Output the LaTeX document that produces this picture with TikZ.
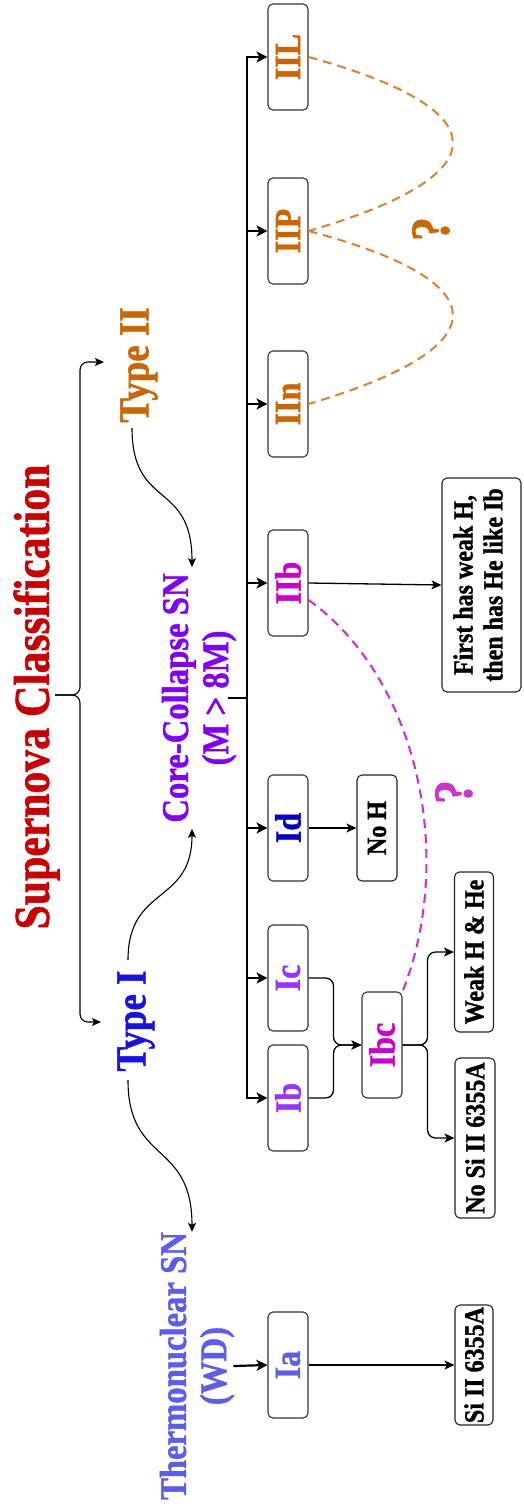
\documentclass[tikz,border=0pt]{standalone}
\usepackage{fontspec}
\setmainfont[BoldFeatures={FakeBold=1.2}]{Liberation Serif}
\usepackage{graphicx}
\usetikzlibrary{arrows.meta}
\definecolor{titlered}{RGB}{204,0,0}
\definecolor{typeIbl}{RGB}{20,20,230}
\definecolor{typeIIor}{RGB}{204,102,0}
\definecolor{ccviolet}{RGB}{127,0,255}
\definecolor{thblue}{RGB}{92,92,240}
\definecolor{ibpurple}{RGB}{153,51,255}
\definecolor{idblue}{RGB}{0,0,204}
\definecolor{ibcmag}{RGB}{204,0,204}
\definecolor{dashorange}{RGB}{218,134,50}
\definecolor{dashmagenta}{RGB}{204,51,204}
\newcommand\Rt[1]{\rotatebox{90}{\scalebox{1}[1.15]{#1}}}
\newcommand\fs[2]{\fontsize{#1}{#2}\selectfont}
\begin{document}
\begin{tikzpicture}[x=1pt,y=-1pt,
  lbl/.style={inner sep=0pt, font=\bfseries},
  box/.style={draw=black!80, line width=1.1pt, rounded corners=5pt, inner sep=0pt,
    minimum width=40pt, minimum height=106pt, font=\bfseries\fs{32}{38}},
  smallbox/.style={draw=black!85, line width=1.1pt, rounded corners=5pt, inner sep=0pt,
    font=\bfseries\fs{24}{26}},
  busline/.style={line width=2.2pt},
  busarrow/.style={line width=2.2pt, -{Stealth[length=11pt,width=11pt,inset=3pt]}},
  thinarrow/.style={line width=1.3pt, -{Stealth[length=10pt,width=9pt,inset=2.5pt]}},
  curvearrow/.style={line width=1.1pt, -{Stealth[length=9pt,width=8pt,inset=2pt]}},
  dashor/.style={dash pattern=on 9pt off 6pt, line width=2.1pt, draw=dashorange},
  dashmag/.style={dash pattern=on 9pt off 6pt, line width=2.1pt, draw=dashmagenta}
]
\fill[white] (0,0) rectangle (524,1506);
\useasboundingbox (0,0) rectangle (524,1506);

% text labels
\node[lbl, text=titlered, font=\bfseries\fs{43.7}{50}] (title) at (36.5,697) {\Rt{Supernova Classification}};
\node[lbl, text=typeIIor, font=\bfseries\fs{37}{42}] (t2) at (139,365) {\Rt{Type II}};
\node[lbl, text=typeIbl, font=\bfseries\fs{37}{42}] (t1) at (136,1021) {\Rt{Type I}};
\node[lbl, text=ccviolet, font=\bfseries\fs{32.7}{35}] (cc) at (200,698)
  {\Rt{\begin{tabular}{@{}c@{}}Core-Collapse SN\\(M > 8M)\end{tabular}}};
\node[lbl, text=thblue, font=\bfseries\fs{32.7}{35}] (th) at (198,1366)
  {\Rt{\begin{tabular}{@{}c@{}}Thermonuclear SN\\(WD)\end{tabular}}};

% type boxes
\node[box, text=typeIIor] (IIL) at (288,57) {\Rt{IIL}};
\node[box, text=typeIIor] (IIP) at (288,231) {\Rt{IIP}};
\node[box, text=typeIIor] (IIn) at (288,404) {\Rt{IIn}};
\node[box, text=ibcmag] (IIb) at (288,583) {\Rt{IIb}};
\node[box, text=idblue] (Id) at (288,828) {\Rt{Id}};
\node[box, text=ibpurple] (Ic) at (288,978) {\Rt{Ic}};
\node[box, text=ibpurple] (Ib) at (288,1098) {\Rt{Ib}};
\node[box, text=thblue] (Ia) at (288,1365) {\Rt{Ia}};
\node[box, text=ibcmag] (Ibc) at (382,1045) {\Rt{Ibc}};

% description boxes
\node[smallbox, minimum width=40pt, minimum height=106pt] (NoH) at (377,828) {\Rt{No H}};
\node[smallbox, minimum width=38pt, minimum height=120pt] (SiII) at (474,1365) {\Rt{Si II 6355A}};
\node[smallbox, minimum width=40pt, minimum height=160pt] (NoSi) at (475,1138) {\Rt{No Si II 6355A}};
\node[smallbox, minimum width=39pt, minimum height=160pt] (Weak) at (474,952) {\Rt{Weak H \& He}};
\node[smallbox, minimum width=79pt, minimum height=214pt] (First) at (481.5,585)
  {\Rt{\begin{tabular}{@{}c@{}}First has weak H,\\then has He like Ib\end{tabular}}};

% question marks
\node[lbl, text=dashmagenta, font=\bfseries\fs{48}{52}] (q1) at (454,792) {\Rt{?}};
\node[lbl, text=typeIIor, font=\bfseries\fs{48}{52}] (q2) at (431,229) {\Rt{?}};

% brace
\coordinate (bt) at (55,695);
\coordinate (t2in) at (104,362);
\coordinate (t1in) at (101,1022);
\draw[curvearrow, rounded corners=8pt] (bt) -- (80,695) -- (80,362) -- (t2in);
\draw[curvearrow, rounded corners=8pt] (bt) -- (80,695) -- (80,1022) -- (t1in);

% type curves
\coordinate (t1a) at (128,960);
\coordinate (t1b) at (128,1080);
\coordinate (t2a) at (132,428);
\draw[curvearrow] (t1a) .. controls (128,885) and (192,905) .. ([xshift=-8pt,yshift=-6pt]cc.south);
\draw[curvearrow] (t1b) .. controls (128,1165) and (192,1140) .. ([xshift=-6pt]th.north);
\draw[curvearrow] (t2a) .. controls (132,510) and (192,480) .. ([xshift=-8pt,yshift=6pt]cc.north);

% bus
\coordinate (bj) at (247,698);
\draw[busline] ([xshift=-12pt]cc.east) -- (bj);
\draw[busarrow] (bj) |- (IIL.west);
\draw[busarrow] (bj) |- (Ib.west);
\foreach \n in {IIP,IIn,IIb,Id,Ic} {
  \draw[busarrow] (\n.west -| bj) -- (\n.west);
}
\draw[busarrow] ([xshift=-5pt]th.east) -- (Ia.west);

% thin connectors
\draw[thinarrow] (Ia.east) -- (SiII.west);
\draw[thinarrow] (Id.east) -- (NoH.west);
\draw[thinarrow] (IIb.east) -- (First.west);
\draw[thinarrow, rounded corners=8pt] (Ic.east) -- ++(25,0) |- (Ibc.west);
\draw[thinarrow, rounded corners=8pt] (Ib.east) -- ++(25,0) |- (Ibc.west);
\draw[thinarrow, rounded corners=8pt] (Ibc.east) -- ++(25,0) |- (Weak.west);
\draw[thinarrow, rounded corners=8pt] (Ibc.east) -- ++(25,0) |- (NoSi.west);

% dashed links
\draw[dashmag] ([yshift=-17pt]IIb.east) .. controls (420,680) and (455,860) .. (Ibc.north east);
\draw[dashor] (IIL.east) .. controls (501,110) and (501,175) .. (IIP.east);
\draw[dashor] (IIP.east) .. controls (501,282) and (501,347) .. (IIn.east);
\end{tikzpicture}
\end{document}
